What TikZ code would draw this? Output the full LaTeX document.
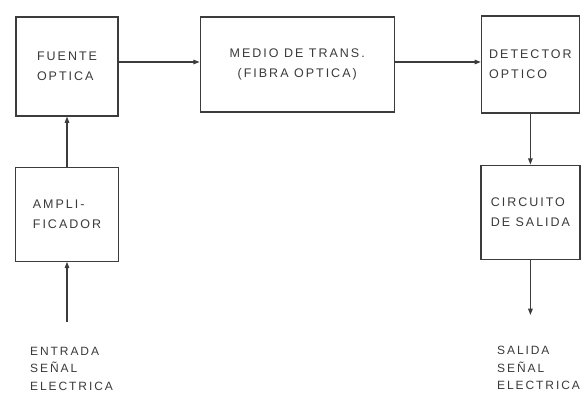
\documentclass[tikz,border=0pt]{standalone}
\usepackage{fontspec}
\setmainfont{Liberation Sans}[LetterSpace=16]
\usetikzlibrary{arrows.meta, positioning}
\definecolor{pencil}{HTML}{3C3C3C}
\definecolor{lettering}{HTML}{3A3A3A}
\tikzset{
    block/.style={rectangle, draw=pencil, line width=1.2pt, align=left, text=lettering, font=\fontsize{12.5}{20}\selectfont, inner sep=2pt},
    label/.style={align=left, text=lettering, font=\fontsize{12}{17.5}\selectfont, inner sep=0pt},
    arrow/.style={-{Triangle[length=2.2mm, width=1.6mm]}, pencil, line width=1.1pt},
}
\begin{document}
\begin{tikzpicture}[x=1pt, y=1pt, node distance=50pt and 81pt]
    \useasboundingbox (0,0) rectangle (588,-397);
    \node[block, minimum width=102pt, minimum height=99pt] (fuente) at (67,-66.5) {FUENTE\\OPTICA};
    \node[block, minimum width=194pt, minimum height=95pt, align=center, right=81pt of fuente, yshift=2pt] (medio) {MEDIO DE TRANS.\\(FIBRA OPTICA)};
    \node[block, minimum width=98pt, minimum height=97pt, right=86pt of medio] (detector) {DETECTOR\\OPTICO};
    \node[block, minimum width=103pt, minimum height=94pt, below=50pt of fuente] (ampli) {AMPLI-\\FICADOR};
    \node[block, minimum width=99pt, minimum height=94pt, below=51pt of detector] (circuito) {CIRCUITO\\DE SALIDA};
    \node[label, anchor=north west] (entrada) at (30,-347) {ENTRADA\\SEÑAL\\ELECTRICA};
    \node[label, anchor=north west] (salida) at (497,-346) {SALIDA\\SEÑAL\\ELECTRICA};
    \coordinate (in) at (ampli.south |- 0,-322);
    \coordinate (out) at (circuito.south |- 0,-315);
    \draw[arrow] (in) -- (ampli);
    \draw[arrow] (ampli) -- (fuente);
    \draw[arrow] (fuente.east |- 0,-62) -- (medio.west |- 0,-62);
    \draw[arrow] (medio.east |- 0,-62) -- (detector.west |- 0,-62);
    \draw[arrow] (detector) -- (circuito);
    \draw[arrow] (circuito) -- (out);
\end{tikzpicture}
\end{document}
